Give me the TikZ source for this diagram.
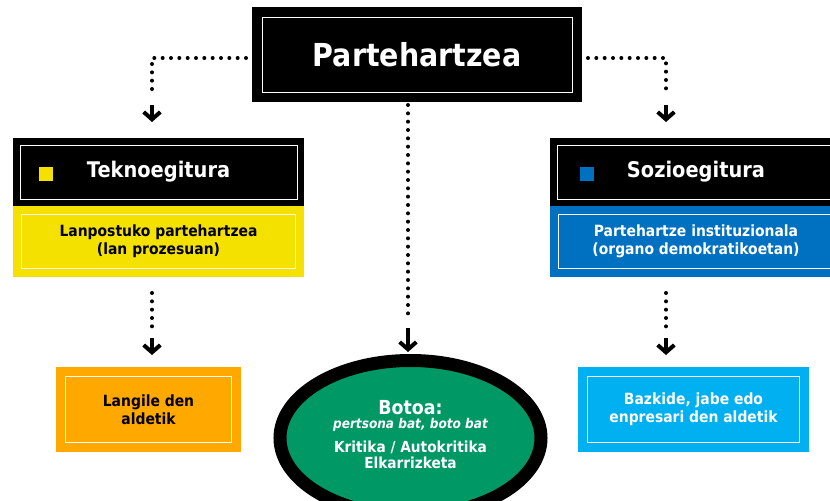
\documentclass[tikz,border=0pt]{standalone}
\usepackage{fontspec}
\setmainfont{DejaVu Sans}[FakeStretch=0.9]
\usetikzlibrary{positioning,calc,shapes.geometric,arrows.meta}
\definecolor{tkyellow}{RGB}{245,225,0}
\definecolor{soblue}{RGB}{0,112,192}
\definecolor{lorange}{RGB}{255,168,0}
\definecolor{lblue}{RGB}{0,176,240}
\definecolor{vgreen}{RGB}{0,153,102}
\tikzset{inframe/.style={rectangle, inner sep=0pt, outer sep=0pt, align=center, path picture={\draw[white, line width=0.7pt] ([shift={(#1,-#1)}]path picture bounding box.north west) rectangle ([shift={(-#1,#1)}]path picture bounding box.south east);}}}
\tikzset{hdrbox/.style={inframe=0.21cm, fill=black, text=white, minimum width=8.73cm, minimum height=2.04cm, font=\fontsize{18.4}{22}\selectfont\bfseries}}
\tikzset{subbox/.style={inframe=0.25cm, minimum width=8.73cm, minimum height=2.13cm, font=\fontsize{13.2}{15.4}\selectfont\bfseries}}
\tikzset{leafbox/.style={inframe=0.28cm, minimum height=2.55cm, font=\fontsize{13.2}{15.4}\selectfont\bfseries}}
\tikzset{sqr/.style={rectangle, minimum size=0.42cm, inner sep=0pt}}
\tikzset{dotln/.style={draw, line width=0.12cm, line cap=round, dash pattern=on 0pt off 0.25cm}}
\tikzset{darr/.style={draw, line width=0.12cm, -{Straight Barb[length=0.22cm, width=0.5cm]}}}

\begin{document}
\begin{tikzpicture}[x=0.03cm, y=-0.03cm]
	\useasboundingbox (0,0) rectangle (830,501);
	\clip (0,0) rectangle (830,501);
	\node[inframe=0.3cm, fill=black, text=white, minimum width=9.9cm, minimum height=2.85cm,
		font=\fontsize{27}{30}\selectfont\bfseries] (title) at (417,54.5) {Partehartzea};
	% teknoegitura
	\node[hdrbox] (tekno) at (158.5,172) {Teknoegitura};
	\node[subbox, fill=tkyellow, below=0pt of tekno] (teknoL) {Lanpostuko partehartzea\\(lan prozesuan)};
	\node[sqr, fill=tkyellow] (teknoS) at (45.5,173.5) {};
	% sozioegitura
	\node[hdrbox] (sozio) at (696,172) {Sozioegitura};
	\node[subbox, fill=soblue, text=white, below=0pt of sozio] (sozioL) {Partehartze instituzionala\\(organo demokratikoetan)};
	\node[sqr, fill=soblue] (sozioS) at (586.5,173.5) {};
	% bottom row
	\node[leafbox, fill=lorange, minimum width=5.55cm] (lang) at (148.5,409.5) {Langile den\\aldetik};
	\node[leafbox, fill=lblue, text=white, minimum width=6.93cm] (bazk) at (693.5,409.5) {Bazkide, jabe edo\\enpresari den aldetik};
	\node[ellipse, fill=vgreen, draw=black, line width=0.39cm, minimum width=7.83cm, minimum height=4.65cm,
		inner sep=0pt, text=white, align=center, font=\fontsize{13}{13.7}\selectfont\bfseries] (botoa) at (410.5,438)
		{{\fontsize{16.5}{18}\selectfont Botoa:}\\[-2pt]
		{\itshape\fontsize{11.5}{12}\selectfont pertsona bat, boto bat}\\[7pt]
		Kritika / Autokritika\\Elkarrizketa\\[-8pt]};

	\coordinate (tkturn) at (152,58);
	\coordinate (soturn) at (666,58);
	\draw[dotln] ($(title.west|-tkturn)+(-6,0)$) -- (tkturn) -- ++(0,37);
	\draw[darr] ($(tkturn|-tekno.north)+(0,-33)$) -- ($(tkturn|-tekno.north)+(0,-16)$);
	\draw[dotln] ($(title.east|-soturn)+(6,0)$) -- (soturn) -- ++(0,37);
	\draw[darr] ($(soturn|-sozio.north)+(0,-33)$) -- ($(soturn|-sozio.north)+(0,-16)$);
	\draw[dotln] (title.south) ++(-9,3) -- ++(0,215);
	\draw[darr] ($(botoa.north)+(-2.5,-26)$) -- ($(botoa.north)+(-2.5,-2)$);
	\draw[dotln] ($(tkturn|-teknoL.south)+(0,16)$) -- ++(0,35);
	\draw[darr] ($(tkturn|-lang.north)+(0,-29)$) -- ($(tkturn|-lang.north)+(0,-12)$);
	\draw[dotln] ($(soturn|-sozioL.south)+(0,16)$) -- ++(0,35);
	\draw[darr] ($(soturn|-bazk.north)+(0,-29)$) -- ($(soturn|-bazk.north)+(0,-12)$);
\end{tikzpicture}
\end{document}
